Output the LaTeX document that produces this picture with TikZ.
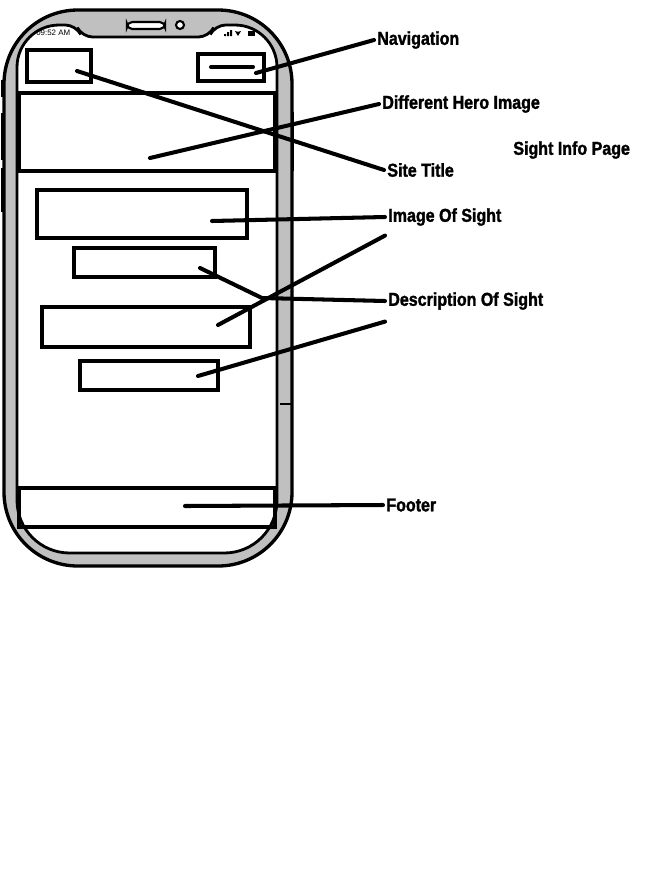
\documentclass[tikz,border=0pt]{standalone}
\usepackage{fontspec}
\usepackage{tikz}
\usetikzlibrary{arrows}
\newfontfamily\lblfont{Liberation Sans}[FakeStretch=0.86,FakeBold=1.6]
\newfontfamily\smallfont{Liberation Sans}
\definecolor{bezel}{RGB}{192,192,192}

\tikzset{
 frame/.style={draw=black,line width=1.9pt},
 wbox/.style={draw=black,line width=2.3pt},
 pointer/.style={draw=black,line width=2.3pt,line cap=round},
 lbl/.style={anchor=west,inner sep=0.06cm,font=\lblfont\bfseries\fontsize{10.6}{12}\selectfont}
}

\begin{document}
\begin{tikzpicture}[x=0.02cm,y=-0.02cm]
\useasboundingbox (0,0) rectangle (666,873);

% phone body
\draw[frame,line width=1.2pt] (2,80)--(2,97) (2,113)--(2,160) (2,168)--(2,212);
\draw[frame,line width=2.6pt] (292,112)--(292,171);
\filldraw[frame,fill=bezel,rounded corners=42] (4,10) rectangle (292,566);
\filldraw[frame,fill=white,line width=1.6pt] (17,300) [rounded corners=24] -- (17,25) [rounded corners=6] -- (76,25) -- (82,37) -- (209,37) -- (215,25) [rounded corners=24] -- (277,25) [rounded corners=30] -- (277,553) -- (17,553) [sharp corners] -- cycle;
\draw[frame,line width=1.2pt] (280,404)--(291,404);

\filldraw[draw=black,fill=white,line width=1.2pt,rounded corners=3] (127,22) rectangle (165,29);
\filldraw[draw=black,fill=white,line width=1.2pt] (180,25) circle (4);
\node[inner sep=0,anchor=west,font=\smallfont\fontsize{4.5}{5}\selectfont] (clock) at (36,33) {09:52 AM};
\fill (224,36) rectangle (226,34) (227,36) rectangle (229,32) (230,36) rectangle (232,30);
\fill (238,36) -- (235,31) arc (120:60:6) -- cycle;
\fill (248,31) rectangle (255,36);

% screen
\draw[wbox] (27,50) rectangle (91,82);
\draw[wbox] (198,54) rectangle (264,81);
\draw[pointer] (211,67) -- (253,67);
\draw[wbox] (19,93) rectangle (275,171);
\draw[wbox] (37,190) rectangle (247,238);
\draw[wbox] (74,248) rectangle (215,277);
\draw[wbox] (42,307) rectangle (250,347);
\draw[wbox] (80,361) rectangle (218,390);
\draw[wbox] (19,488) rectangle (275,527);

% labels
\node[lbl] (navigation) at (374,40) {Navigation};
\node[lbl] (hero) at (379,104) {Different Hero Image};
\node[lbl] (page) at (510,150) {Sight Info Page};
\node[lbl] (title) at (384,170) {Site Title};
\node[lbl] (image) at (385,217) {Image Of Sight};
\node[lbl] (description) at (385,301) {Description Of Sight};
\node[lbl] (footer) at (383,505) {Footer};

\coordinate (n1) at (256,73);
\coordinate (t1) at (77,71);
\coordinate (h1) at (150,158);
\coordinate (i1) at (212,221);
\coordinate (i2) at (218,325);
\coordinate (d1) at (200,268);
\coordinate (d2) at (262,298);
\coordinate (d3) at (198,376);
\coordinate (f1) at (185,506);

\draw[pointer] (n1) -- (navigation.west);
\draw[pointer] (t1) -- (title.west);
\draw[pointer] (h1) -- (hero.west);
\draw[pointer] (i1) -- (image.west);
\draw[pointer] (i2) -- ([yshift=-0.13cm]image.south west);
\draw[pointer] (d1) -- (d2) -- (description.west);
\draw[pointer] (d3) -- ([yshift=-0.17cm]description.south west);
\draw[pointer] (f1) -- (footer.west);
\end{tikzpicture}
\end{document}
